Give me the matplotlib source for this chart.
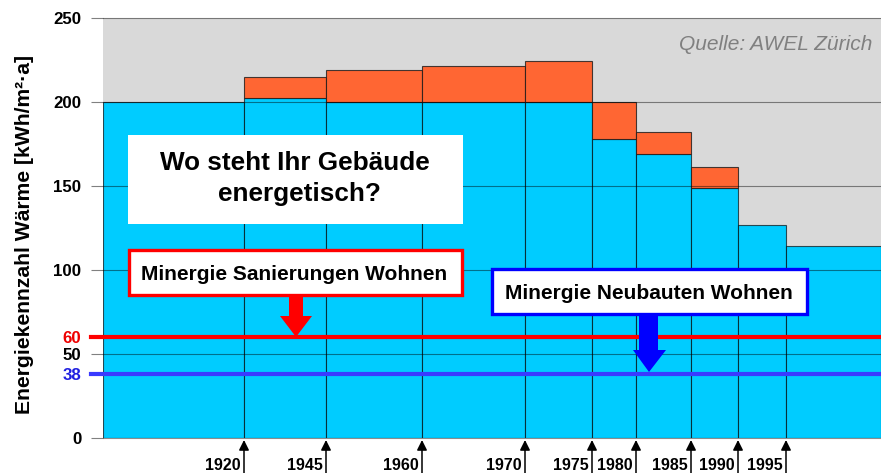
import numpy as np
import matplotlib
matplotlib.use('Agg')
import matplotlib.pyplot as plt
from matplotlib.patches import Rectangle, Polygon
import matplotlib.transforms as mtransforms

# ---- data ----
period_widths = [141, 82, 96, 103, 67, 44, 55, 47, 48, 95]
blue_values = [200, 202.3, 200, 200, 200, 178, 169, 148.6, 127, 114.5]
total_values = [200, 215, 219, 221.5, 224.5, 200, 182, 161.5, 127, 114.5]
year_labels = ['1920', '1945', '1960', '1970', '1975', '1980', '1985', '1990', '1995']
y_ticks = [0, 50, 100, 150, 200, 250]
sanierung_limit = 60
neubau_limit = 38

W, H = 881, 473
plt.rcParams['font.family'] = ['Liberation Sans', 'DejaVu Sans']
fig = plt.figure(figsize=(W / 100, H / 100), dpi=100)
ax = fig.add_axes([103 / W, 35 / H, 778 / W, 420 / H])
ax.set_facecolor('#d9d9d9')
ax.set_xlim(0, sum(period_widths))
ax.set_ylim(0, 250)

widths = np.array(period_widths)
lefts = np.concatenate([[0], np.cumsum(widths)[:-1]])
edges = np.cumsum(widths)
blue = np.array(blue_values)
total = np.array(total_values)
orange = total - blue

ax.bar(lefts, blue, width=widths, align='edge', color='#00ccff',
       edgecolor=(0, 0, 0, 0.65), linewidth=0.8, zorder=2)
mask = orange > 0
ax.bar(lefts[mask], orange[mask], bottom=blue[mask], width=widths[mask], align='edge',
       color='#ff6633', edgecolor=(0.1, 0.1, 0.1, 0.8), linewidth=0.8, zorder=2)

for v in y_ticks:
    ax.axhline(v, color='black', alpha=0.45, lw=0.8, zorder=2.5, clip_on=False)

ax.axhline(sanierung_limit, xmin=-12 / 778, xmax=1, color='#ff0000', lw=3, zorder=4, clip_on=False)
ax.axhline(neubau_limit, xmin=-12 / 778, xmax=1, color='#3a3aff', lw=3, zorder=4, clip_on=False)

all_ticks = sorted(y_ticks + [neubau_limit, sanierung_limit])
ax.set_yticks(all_ticks)
ax.set_yticklabels([str(t) for t in all_ticks])
ax.tick_params(axis='y', length=8.4, width=0.8, color='#808080', pad=7, labelsize=12.2)
for t, lbl in zip(all_ticks, ax.get_yticklabels()):
    lbl.set_fontweight('bold')
    if t == sanierung_limit:
        lbl.set_color('#ee0000')
    elif t == neubau_limit:
        lbl.set_color('#2020e0')
ax.set_xticks([])
for s in ax.spines.values():
    s.set_visible(False)

xtr = ax.get_xaxis_transform()
lab_tr = mtransforms.offset_copy(xtr, fig=fig, x=-3, y=0, units='dots')
for e, lab in zip(edges[:-1], year_labels):
    ax.annotate('', xy=(e, -2 / 420), xycoords=xtr, xytext=(e, -40 / 420), textcoords=xtr,
                arrowprops=dict(arrowstyle='-|>,head_length=0.6,head_width=0.3', color='black',
                                lw=1.1, shrinkA=0, shrinkB=0, mutation_scale=10),
                annotation_clip=False)
    ax.text(e, -27 / 420, lab, transform=lab_tr, ha='right', va='center',
            fontsize=11.5, fontweight='bold', clip_on=False)


def fig_rect(x0, y0, x1, y1, **kw):
    r = Rectangle((x0 / W, 1 - y1 / H), (x1 - x0) / W, (y1 - y0) / H,
                  transform=fig.transFigure, **kw)
    fig.add_artist(r)


def fig_poly(pts, **kw):
    p = Polygon([(x / W, 1 - y / H) for x, y in pts], closed=True,
                transform=fig.transFigure, **kw)
    fig.add_artist(p)


def ftext(x, y, s, **kw):
    fig.text(x / W, 1 - y / H, s, **kw)


# Title box
fig_rect(128, 135, 463, 224, facecolor='white', edgecolor='none', zorder=5)
ftext(294.5, 170, 'Wo steht Ihr Gebäude', ha='center', va='baseline', fontsize=18.8,
      fontweight='bold', zorder=6)
ftext(299, 201, 'energetisch?', ha='center', va='baseline', fontsize=18.8,
      fontweight='bold', zorder=6)

# Red box
fig_rect(128.5, 249.5, 461.5, 295, facecolor='white', edgecolor='#ff0000', lw=2.4, zorder=5)
ftext(294.5, 279.5, 'Minergie Sanierungen Wohnen', ha='center', va='baseline',
      fontsize=15, fontweight='bold', zorder=6)
fig_poly([(289, 296), (303, 296), (303, 316), (312, 316), (296, 337), (280, 316), (289, 316)],
         facecolor='#ff0000', edgecolor='none', zorder=5)

# Blue box
fig_rect(491.5, 268.5, 806.5, 313.5, facecolor='white', edgecolor='#0000ff', lw=2.4, zorder=5)
ftext(649, 298.5, 'Minergie Neubauten Wohnen', ha='center', va='baseline',
      fontsize=15, fontweight='bold', zorder=6)
fig_poly([(639, 315), (658, 315), (658, 350), (666, 350), (649, 372), (633, 350), (639, 350)],
         facecolor='#0000ff', edgecolor='none', zorder=5)

# Source
ftext(872, 45, 'Quelle: AWEL Zürich', ha='right', va='center', fontsize=15,
      style='italic', color='#808080')

# Y label
ftext(25, 234, 'Energiekennzahl Wärme [kWh/m²·a]', rotation=90, ha='center', va='center',
      fontsize=15.2, fontweight='bold')

fig.savefig('out.png', dpi=100)
